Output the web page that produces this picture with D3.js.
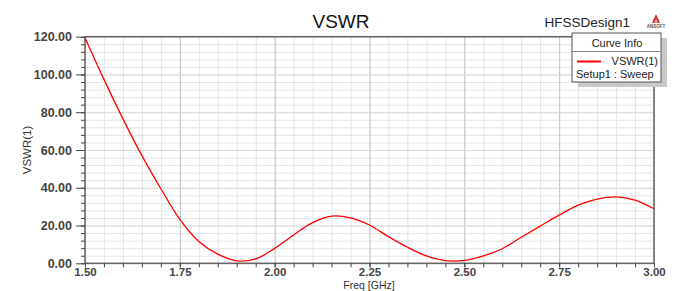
<!DOCTYPE html>
<html>
<head>
<meta charset="utf-8">
<script src="https://cdn.jsdelivr.net/npm/d3@7"></script>
<style>
  body { margin: 0; background: #fff; }
  text { font-family: "Liberation Sans", Arial, sans-serif; }
</style>
</head>
<body>
<div id="chart"></div>
<script>
// data
var freq = [1.50, 1.55, 1.60, 1.65, 1.70, 1.75, 1.80, 1.85, 1.90, 1.95,
            2.00, 2.05, 2.10, 2.15, 2.20, 2.25, 2.30, 2.35, 2.40, 2.45,
            2.50, 2.55, 2.60, 2.65, 2.70, 2.75, 2.80, 2.85, 2.90, 2.95, 3.00];
var vswr = [119.5, 97.4, 76.5, 57.0, 39.5, 23.3, 11.6, 4.9, 1.3, 2.3,
            7.9, 15.0, 21.5, 25.0, 24.1, 20.3, 14.1, 8.5, 3.9, 1.4,
            1.5, 3.9, 7.7, 13.8, 19.7, 25.5, 30.8, 34.0, 35.2, 33.5, 28.9];
var xTicks = [1.50, 1.75, 2.00, 2.25, 2.50, 2.75, 3.00];
var yTicks = [0, 20, 40, 60, 80, 100, 120];

var W = 678, H = 291;
var margin = {top: 36.7, right: 24, bottom: 27.7, left: 85};
var width = W - margin.left - margin.right,
    height = H - margin.top - margin.bottom;

var root = d3.select("#chart").append("svg")
    .attr("width", W)
    .attr("height", H);

var svg = root.append("g")
    .attr("transform", "translate(" + margin.left + "," + margin.top + ")");

var x = d3.scaleLinear().domain([1.5, 3.0]).range([0, width]);
var y = d3.scaleLinear().domain([0, 120]).range([height, 0]);

// minor grid
svg.append("g")
    .call(d3.axisBottom(x).tickValues(d3.range(1.5, 3.0001, 0.05)).tickSize(height).tickFormat(""))
    .call(function(g) { g.select(".domain").remove(); g.selectAll("line").attr("stroke", "#e4e4e4"); });
svg.append("g")
    .call(d3.axisLeft(y).tickValues(d3.range(0, 120.001, 4)).tickSize(-width).tickFormat(""))
    .call(function(g) { g.select(".domain").remove(); g.selectAll("line").attr("stroke", "#e4e4e4"); });

// major grid
svg.append("g")
    .call(d3.axisBottom(x).tickValues(xTicks).tickSize(height).tickFormat(""))
    .call(function(g) { g.select(".domain").remove(); g.selectAll("line").attr("stroke", "#c4c4c4"); });
svg.append("g")
    .call(d3.axisLeft(y).tickValues(yTicks).tickSize(-width).tickFormat(""))
    .call(function(g) { g.select(".domain").remove(); g.selectAll("line").attr("stroke", "#dadada"); });

// frame
svg.append("rect")
    .attr("width", width).attr("height", height)
    .attr("fill", "none").attr("stroke", "#666").attr("stroke-width", 1.5);

// axis minor ticks
svg.append("g")
    .attr("transform", "translate(0," + height + ")")
    .call(d3.axisBottom(x).tickValues(d3.range(1.5, 3.0001, 0.05)).tickSize(4).tickFormat(""))
    .call(function(g) { g.select(".domain").remove(); g.selectAll("line").attr("stroke", "#444"); });
svg.append("g")
    .call(d3.axisLeft(y).tickValues(d3.range(0, 120.001, 4)).tickSize(4).tickFormat(""))
    .call(function(g) { g.select(".domain").remove(); g.selectAll("line").attr("stroke", "#444"); });

// axis labels
var xAxis = svg.append("g")
    .attr("transform", "translate(0," + height + ")")
    .call(d3.axisBottom(x).tickValues(xTicks).tickSize(4).tickPadding(1).tickFormat(d3.format(".2f")));
xAxis.select(".domain").remove();
xAxis.selectAll("line").attr("stroke", "#444");
xAxis.selectAll("text")
    .style("font-size", "11.5px").style("font-weight", "bold").attr("fill", "#444")
    .style("font-family", "'Liberation Sans', Arial, sans-serif");

var yAxis = svg.append("g")
    .call(d3.axisLeft(y).tickValues(yTicks).tickSize(9).tickPadding(4).tickFormat(d3.format(".2f")));
yAxis.select(".domain").remove();
yAxis.selectAll("line").attr("stroke", "#444");
yAxis.selectAll("text")
    .style("font-size", "12.5px").style("font-weight", "bold").attr("fill", "#444")
    .style("font-family", "'Liberation Sans', Arial, sans-serif");

// the curve
var pts = freq.map(function(f, i) { return {f: f, v: vswr[i]}; });
svg.append("path")
    .datum(pts)
    .attr("fill", "none")
    .attr("stroke", "#ff0000")
    .attr("stroke-width", 1.3)
    .attr("d", d3.line()
        .curve(d3.curveCatmullRom)
        .x(function(d) { return x(d.f); })
        .y(function(d) { return y(d.v); }));

// titles
root.append("text")
    .attr("x", 341).attr("y", 28)
    .attr("text-anchor", "middle")
    .style("font-size", "19px")
    .attr("fill", "#111")
    .text("VSWR");

root.append("text")
    .attr("x", 369).attr("y", 289)
    .attr("text-anchor", "middle")
    .style("font-size", "10.5px")
    .attr("fill", "#333")
    .text("Freq [GHz]");

root.append("text")
    .attr("transform", "translate(31,150) rotate(-90)")
    .attr("text-anchor", "middle")
    .style("font-size", "11.5px")
    .attr("fill", "#333")
    .text("VSWR(1)");

root.append("text")
    .attr("x", 630).attr("y", 27)
    .attr("text-anchor", "end")
    .style("font-size", "13.5px")
    .attr("fill", "#222")
    .text("HFSSDesign1");

// ansoft logo
var logo = root.append("g").attr("transform", "translate(652,14)");
logo.append("path").attr("d", "M4,0 L8,9 L0,9 Z").attr("fill", "#d42020");
logo.append("path").attr("d", "M4,4 L6,9 L2,9 Z").attr("fill", "#f5a0a0");
logo.append("text")
    .attr("x", 4).attr("y", 14)
    .attr("text-anchor", "middle")
    .style("font-size", "4.5px").style("font-weight", "bold")
    .attr("fill", "#555")
    .text("ANSOFT");

// legend box
var lg = root.append("g").attr("transform", "translate(572,33)");
lg.append("rect").attr("x", 6).attr("y", 5).attr("width", 89).attr("height", 49).attr("fill", "#c8c8c8");
lg.append("rect").attr("width", 89).attr("height", 49)
    .attr("fill", "#fff").attr("stroke", "#555").attr("stroke-width", 1);
lg.append("line").attr("x1", 0).attr("x2", 89).attr("y1", 18.5).attr("y2", 18.5)
    .attr("stroke", "#888");
lg.append("text").attr("x", 45).attr("y", 14).attr("text-anchor", "middle")
    .style("font-size", "11px").attr("fill", "#222").text("Curve Info");
lg.append("line").attr("x1", 5).attr("x2", 29).attr("y1", 28.5).attr("y2", 28.5)
    .attr("stroke", "#ff0000").attr("stroke-width", 2);
lg.append("text").attr("x", 86).attr("y", 32).attr("text-anchor", "end")
    .style("font-size", "11px").attr("fill", "#222").text("VSWR(1)");
lg.append("text").attr("x", 4).attr("y", 45)
    .style("font-size", "11px").attr("fill", "#222").text("Setup1 : Sweep");
</script>
</body>
</html>
